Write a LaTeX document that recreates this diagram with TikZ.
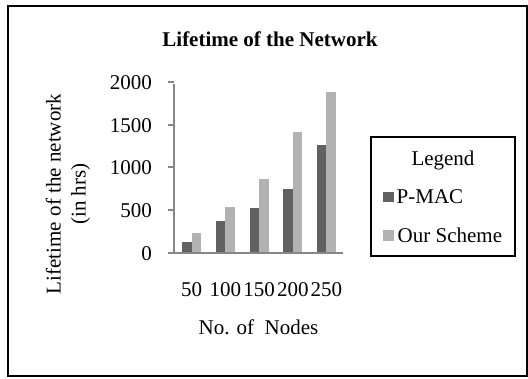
\documentclass[tikz,border=0pt]{standalone}
\usepackage{fontspec}
\setmainfont{Liberation Serif}
\definecolor{darkbar}{HTML}{616161}
\definecolor{lightbar}{HTML}{B2B2B2}
\definecolor{axisgray}{HTML}{868686}
\begin{document}
\begin{tikzpicture}[x=1pt,y=-1pt,
  txt/.style={inner sep=0pt,font=\fontsize{21}{25}\selectfont},
  axisline/.style={draw=axisgray,line width=2pt},
  darkfill/.style={fill=darkbar},
  lightfill/.style={fill=lightbar}]
\useasboundingbox (0,0) rectangle (528,378);
% outer frame
\draw[line width=2pt] (7.7,5.8) rectangle (527,376.3);
% title
\node[txt,anchor=base,font=\fontsize{21}{25}\selectfont\bfseries] (title) at (270,46.5) {Lifetime of the Network};
% bars
\foreach \k/\a/\b in {1/120/230,2/370/540,3/520/860,4/750/1420,5/1270/1890}{
  \pgfmathsetmacro{\cx}{174.8+33.7*(\k-0.5)}
  \fill[darkfill] (\cx-9.5,{252.5-\a*0.085}) rectangle (\cx,252.5);
  \fill[lightfill] (\cx,{252.5-\b*0.085}) rectangle (\cx+9.5,252.5);
}
% axes
\coordinate (ytop) at (174.3,83.5);
\coordinate (orig) at (174.3,252.5);
\coordinate (xend) at (342.7,252.5);
\draw[axisline] (ytop) -- (orig) -- (xend);
\foreach \v in {0,500,1000,1500,2000}{
  \draw[axisline] (168.3,{252.5-\v*0.085}) -- (174.3,{252.5-\v*0.085});
  \node[txt,anchor=base east] (t\v) at (152,{252.5-\v*0.085+7.5}) {\v};
}
% x labels
\foreach \k/\n in {1/50,2/100,3/150,4/200,5/250}{
  \pgfmathsetmacro{\cx}{174.8+33.7*(\k-0.5)}
  \node[txt,anchor=base] (x\k) at (\cx,296) {\n};
}
\node[txt,anchor=base] (xlabel) at (258.5,334) {No. of\ \ Nodes};
% y label
\node[txt,rotate=90,align=center] (ylabel) at (68,194) {Lifetime of the network\\(in hrs)};
% legend
\draw[line width=2pt] (370.7,136.5) rectangle (515,256);
\node[txt,anchor=base] (legtitle) at (443,165) {Legend};
\fill[darkfill] (383.3,191.7) rectangle (393.8,202.3);
\node[txt,anchor=base west] (leg1) at (396.5,203.3) {P-MAC};
\fill[lightfill] (383.3,230) rectangle (393.8,240.5);
\node[txt,anchor=base west] (leg2) at (397.5,242.3) {Our Scheme};
\end{tikzpicture}
\end{document}
